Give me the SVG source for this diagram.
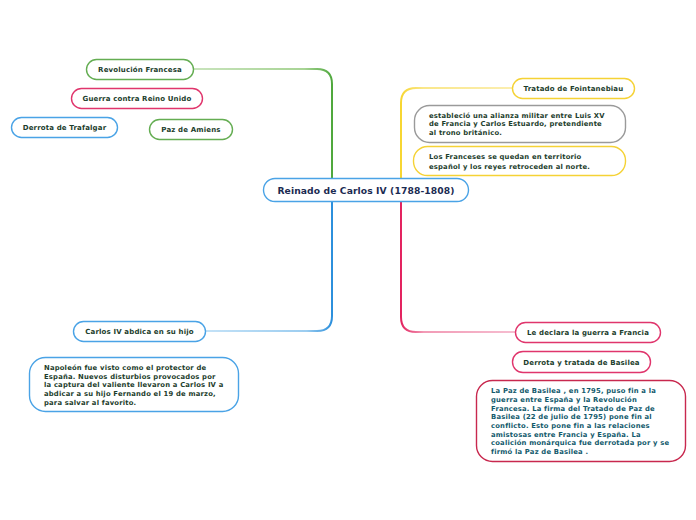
<svg xmlns="http://www.w3.org/2000/svg" width="696" height="520" viewBox="0 0 696 520">
<defs>
<linearGradient id="gG" gradientUnits="userSpaceOnUse" x1="193" y1="0" x2="332" y2="0"><stop offset="0" stop-color="#c9e4bd"/><stop offset="0.8" stop-color="#a8d495"/><stop offset="1" stop-color="#4fa83d"/></linearGradient>
<linearGradient id="gB" gradientUnits="userSpaceOnUse" x1="205" y1="0" x2="332" y2="0"><stop offset="0" stop-color="#c4e2f7"/><stop offset="0.8" stop-color="#9ccdf0"/><stop offset="1" stop-color="#2b8fdc"/></linearGradient>
<linearGradient id="gY" gradientUnits="userSpaceOnUse" x1="401" y1="0" x2="512" y2="0"><stop offset="0" stop-color="#f7d631"/><stop offset="0.2" stop-color="#fae78a"/><stop offset="1" stop-color="#fbeeb0"/></linearGradient>
<linearGradient id="gP" gradientUnits="userSpaceOnUse" x1="401" y1="0" x2="515" y2="0"><stop offset="0" stop-color="#e3225f"/><stop offset="0.2" stop-color="#f29bb6"/><stop offset="1" stop-color="#f6bdd0"/></linearGradient>
</defs>
<style>
text{font-family:"DejaVu Sans","Verdana",sans-serif;font-weight:bold;}
.n{fill:#fff;stroke-width:1.4;}
.g{stroke:#64ad52;}
.p{stroke:#e0356c;}
.b{stroke:#4aa3e6;}
.y{stroke:#f5d235;}
.gr{stroke:#9a9a9a;}
.cr{stroke:#c8284e;}
.t{font-size:7px;fill:#1c3d2c;text-anchor:middle;letter-spacing:0.15px;}
.par{font-size:6.8px;fill:#1c3d2c;letter-spacing:0.2px;}
.bas{font-size:6.8px;fill:#125a6c;letter-spacing:0.2px;}
.c{fill:none;}
</style>
<g id="connectors">
<path class="c" d="M193,69 H317 Q332,69 332,84 V178" stroke="url(#gG)" stroke-width="2"/>
<path class="c" d="M205,331 H317 Q332,331 332,316 V201" stroke="url(#gB)" stroke-width="2"/>
<path class="c" d="M512,88 H416 Q401,88 401,103 V178" stroke="url(#gY)" stroke-width="2"/>
<path class="c" d="M515,332 H416 Q401,332 401,317 V201" stroke="url(#gP)" stroke-width="2"/>
</g>
<g id="central">
<rect class="n b" x="263.5" y="178.5" width="205" height="23" rx="11.5" stroke-width="1.5"/>
<text x="366" y="193.5" font-size="9.2" fill="#1b2b52" text-anchor="middle" letter-spacing="0.1">Reinado de Carlos IV (1788-1808)</text>
</g>
<g id="revolucion">
<rect class="n g" x="86.5" y="59.5" width="107" height="20" rx="10"/>
<text class="t" x="140" y="72">Revolución Francesa</text>
</g>
<g id="guerra">
<rect class="n p" x="71.5" y="88.5" width="131" height="20" rx="10"/>
<text class="t" x="137" y="101">Guerra contra Reino Unido</text>
</g>
<g id="trafalgar">
<rect class="n b" x="11.5" y="117.5" width="106" height="20" rx="10"/>
<text class="t" x="64.5" y="130">Derrota de Trafalgar</text>
</g>
<g id="amiens">
<rect class="n g" x="149.5" y="119.5" width="83" height="20" rx="10"/>
<text class="t" x="191" y="132">Paz de Amiens</text>
</g>
<g id="fointanebiau">
<rect class="n y" x="512.5" y="78.5" width="122" height="20" rx="10"/>
<text class="t" x="573.5" y="91">Tratado de Fointanebiau</text>
</g>
<g id="alianza">
<rect class="n gr" x="414.5" y="105.5" width="211" height="37" rx="15"/>
<text class="par" x="429" y="117.5">estableció una alianza militar entre Luis XV</text>
<text class="par" x="429" y="126">de Francia y Carlos Estuardo, pretendiente</text>
<text class="par" x="429" y="134.5">al trono británico.</text>
</g>
<g id="franceses">
<rect class="n y" x="413.5" y="146.5" width="212" height="29" rx="14"/>
<text class="par" x="429" y="158.5">Los Franceses se quedan en territorio</text>
<text class="par" x="429" y="168.5">español y los reyes retroceden al norte.</text>
</g>
<g id="abdica">
<rect class="n b" x="73.5" y="321.5" width="132" height="20" rx="10"/>
<text class="t" x="139.5" y="334">Carlos IV abdica en su hijo</text>
</g>
<g id="napoleon">
<rect class="n b" x="29.5" y="357.5" width="209" height="54" rx="16"/>
<text class="par" x="44" y="369.8">Napoleón fue visto como el protector de</text>
<text class="par" x="44" y="378.5">España. Nuevos disturbios provocados por</text>
<text class="par" x="44" y="387.3">la captura del valiente llevaron a Carlos IV a</text>
<text class="par" x="44" y="396">abdicar a su hijo Fernando el 19 de marzo,</text>
<text class="par" x="44" y="404.8">para salvar al favorito.</text>
</g>
<g id="declara">
<rect class="n p" x="515.5" y="322.5" width="145" height="20" rx="10"/>
<text class="t" x="588" y="335">Le declara la guerra a Francia</text>
</g>
<g id="derrota-basilea">
<rect class="n p" x="512.5" y="351.5" width="138" height="21" rx="10.5"/>
<text class="t" x="581.5" y="364.5">Derrota y tratada de Basilea</text>
</g>
<g id="paz-basilea">
<rect class="n cr" x="476.5" y="380.5" width="209" height="81" rx="16"/>
<text class="bas" x="491" y="393.3">La Paz de Basilea , en 1795, puso fin a la</text>
<text class="bas" x="491" y="402">guerra entre España y la Revolución</text>
<text class="bas" x="491" y="410.6">Francesa. La firma del Tratado de Paz de</text>
<text class="bas" x="491" y="419.3">Basilea (22 de julio de 1795) pone fin al</text>
<text class="bas" x="491" y="428">conflicto. Esto pone fin a las relaciones</text>
<text class="bas" x="491" y="436.6">amistosas entre Francia y España. La</text>
<text class="bas" x="491" y="445.3">coalición monárquica fue derrotada por y se</text>
<text class="bas" x="491" y="454">firmó la Paz de Basilea .</text>
</g>
</svg>
